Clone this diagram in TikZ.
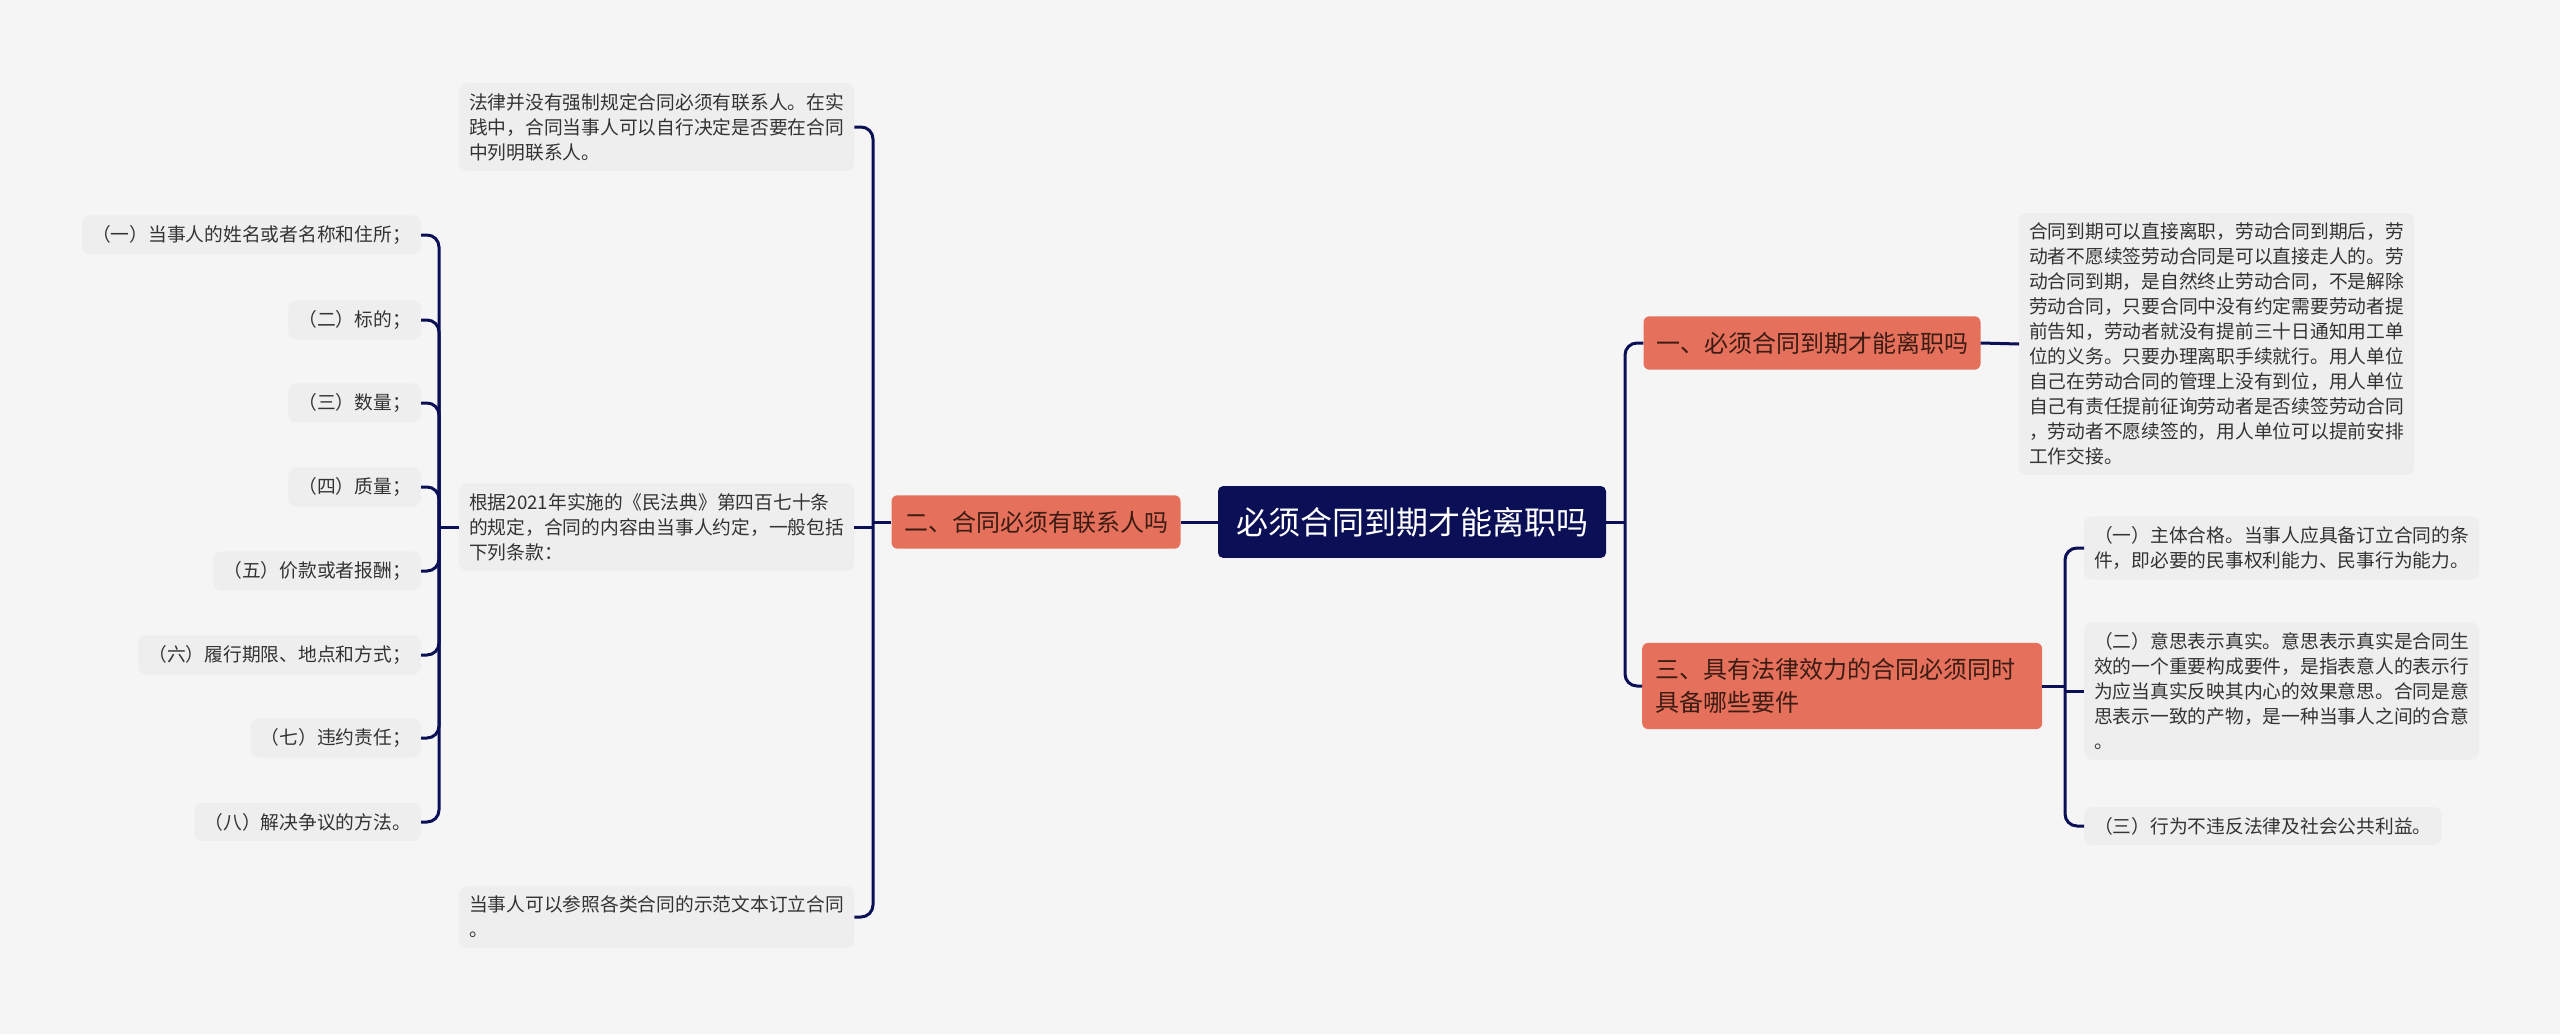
\documentclass[tikz,border=0pt]{standalone}
\usepackage{fontspec}
\setmainfont{Noto Sans CJK SC}
\usepackage{tikz}
\definecolor{navy}{HTML}{0B0F55}
\definecolor{salmon}{HTML}{E5705B}
\definecolor{leafgray}{HTML}{EEEEEE}
\definecolor{pagegray}{HTML}{F5F5F5}
\definecolor{inkdark}{HTML}{333333}
\definecolor{branchink}{HTML}{3D1C14}

\begin{document}
\begin{tikzpicture}[x=1pt,y=-1pt,
  rootbox/.style={fill=navy,text=white,rounded corners=5pt,inner xsep=18pt,inner ysep=21pt,font=\fontsize{32}{38}\selectfont},
  branchbox/.style={fill=salmon,text=branchink,rounded corners=6pt,inner xsep=12.5pt,inner ysep=15.5pt,font=\fontsize{24}{33}\selectfont},
  leafbox/.style={fill=leafgray,text=inkdark,rounded corners=8pt,inner xsep=10pt,inner ysep=10pt,font=\fontsize{18.75}{25}\selectfont},
  para/.style={leafbox,text width=375pt,align=left},
  link/.style={draw=navy,line width=3pt,rounded corners=12pt}]
\fill[pagegray] (0,0) rectangle (2560,1034);
\useasboundingbox (0,0) rectangle (2560,1034);
%
\node[rootbox] (root) at (1412,522) {必须合同到期才能离职吗};
\node[branchbox] (b2) at (1036,522) {二、合同必须有联系人吗};
\node[branchbox] (b1) at (1812,343) {一、必须合同到期才能离职吗};
\node[branchbox,anchor=west,text width=374pt,align=left,inner xsep=13pt] (b3) at (1642,686) {三、具有法律效力的合同必须同时\\具备哪些要件};
%
\node[para,anchor=west] (l1) at (459,127) {法律并没有强制规定合同必须有联系人。在实\\践中，合同当事人可以自行决定是否要在合同\\中列明联系人。};
\node[para,anchor=west] (l2) at (459,527) {根据2021年实施的《民法典》第四百七十条\\的规定，合同的内容由当事人约定，一般包括\\下列条款：};
\node[para,anchor=west] (l3) at (459,917) {当事人可以参照各类合同的示范文本订立合同\\。};
%
\node[leafbox,anchor=east] (c1) at (421,235) {（一）当事人的姓名或者名称和住所；};
\node[leafbox,anchor=east] (c2) at (421,320) {（二）标的；};
\node[leafbox,anchor=east] (c3) at (421,403) {（三）数量；};
\node[leafbox,anchor=east] (c4) at (421,487) {（四）质量；};
\node[leafbox,anchor=east] (c5) at (421,571) {（五）价款或者报酬；};
\node[leafbox,anchor=east] (c6) at (421,655) {（六）履行期限、地点和方式；};
\node[leafbox,anchor=east] (c7) at (421,738) {（七）违约责任；};
\node[leafbox,anchor=east] (c8) at (421,822) {（八）解决争议的方法。};
%
\node[para,anchor=west] (r1) at (2019,344) {合同到期可以直接离职，劳动合同到期后，劳\\动者不愿续签劳动合同是可以直接走人的。劳\\动合同到期，是自然终止劳动合同，不是解除\\劳动合同，只要合同中没有约定需要劳动者提\\前告知，劳动者就没有提前三十日通知用工单\\位的义务。只要办理离职手续就行。用人单位\\自己在劳动合同的管理上没有到位，用人单位\\自己有责任提前征询劳动者是否续签劳动合同\\，劳动者不愿续签的，用人单位可以提前安排\\工作交接。};
\node[para,anchor=west] (r2) at (2084,548) {（一）主体合格。当事人应具备订立合同的条\\件，即必要的民事权利能力、民事行为能力。};
\node[para,anchor=west] (r3) at (2084,691) {（二）意思表示真实。意思表示真实是合同生\\效的一个重要构成要件，是指表意人的表示行\\为应当真实反映其内心的效果意思。合同是意\\思表示一致的产物，是一种当事人之间的合意\\。};
\node[leafbox,anchor=west] (r4) at (2084,826) {（三）行为不违反法律及社会公共利益。};
%
\coordinate (jl) at (873,522);
\draw[link] (root.west) -- (b2.east);
\draw[link] (b2.west) -- (jl);
\draw[link] (jl) |- (l1.east);
\draw[link] (l2.east) -- (l2.east -| jl);
\draw[link] (jl) |- (l3.east);
%
\coordinate (jc) at (439,527);
\draw[link] (l2.west) -- (jc);
\draw[link] (jc) |- (c1.east);
\draw[link] (jc) |- (c2.east);
\draw[link] (jc) |- (c3.east);
\draw[link] (jc) |- (c4.east);
\draw[link] (jc) |- (c5.east);
\draw[link] (jc) |- (c6.east);
\draw[link] (jc) |- (c7.east);
\draw[link] (jc) |- (c8.east);
%
\coordinate (jr) at (1625,522);
\draw[link] (root.east) -- (jr);
\draw[link] (jr) |- (b1.west);
\draw[link] (jr) |- (b3.west);
\draw[link] (b1.east) -- (r1.west);
%
\coordinate (j3) at (2065,686);
\draw[link] (b3.east) -- (j3);
\draw[link] (j3) |- (r2.west);
\draw[link] (r3.west) -- (r3.west -| j3);
\draw[link] (j3) |- (r4.west);
\end{tikzpicture}
\end{document}
